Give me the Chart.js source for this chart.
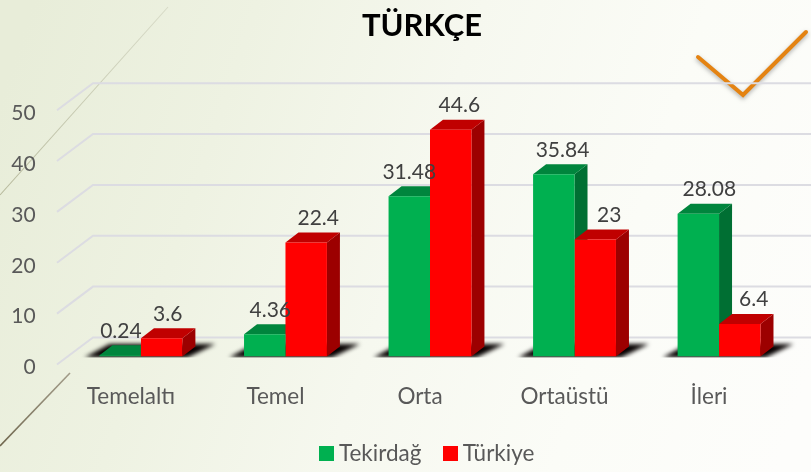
<!DOCTYPE html>
<html><head><meta charset="utf-8">
<script src="https://cdn.jsdelivr.net/npm/chart.js@4"></script>
<style>html,body{margin:0;padding:0;overflow:hidden;background:#fff}canvas{display:block}</style>
</head><body><canvas id="c" width="811" height="472"></canvas>
<script>
const categories = ["Temelaltı","Temel","Orta","Ortaüstü","İleri"];
const tekirdag = [0.24,4.36,31.48,35.84,28.08];
const turkiye = [3.6,22.4,44.6,23,6.4];
const titleText = "TÜRKÇE";
const FONT = "Lato, Carlito, Calibri, sans-serif";
const depth = {dx:13, dy:10};
const wall = {left:57, back:93, right:811, frontDy:8, backDy:-19};
const labelShift = [[0.7,5.5,0,8.7,11],[6,12,8.6,14,14]];
function poly(ctx,pts,fill){ctx.beginPath();pts.forEach((p,i)=>i?ctx.lineTo(p[0],p[1]):ctx.moveTo(p[0],p[1]));ctx.closePath();ctx.fillStyle=fill;ctx.fill();}
function swatch(color){const c=document.createElement('canvas');c.width=15;c.height=15;const x=c.getContext('2d');x.fillStyle=color;x.fillRect(0,0,15,15);return c;}
const scene = {
  id:'scene',
  afterLayout(chart){const t=chart.titleBlock;t.left-=8;t.right-=8;},
  beforeDraw(chart){
    const {ctx,width:w,height:h}=chart;
    ctx.save();
    const g=ctx.createLinearGradient(0,100,w,h-100);
    g.addColorStop(0,'#e8edd9');g.addColorStop(.25,'#eef2e2');g.addColorStop(.5,'#f6f8ef');g.addColorStop(.75,'#fbfcf7');g.addColorStop(1,'#fdfdfb');
    ctx.fillStyle=g;ctx.fillRect(0,0,w,h);
    let l=ctx.createLinearGradient(0,195,168,7);l.addColorStop(0,'rgba(170,172,140,.8)');l.addColorStop(1,'rgba(190,192,170,.45)');
    ctx.lineWidth=1.1;ctx.strokeStyle=l;ctx.beginPath();ctx.moveTo(0,195);ctx.lineTo(168,7);ctx.stroke();
    ctx.lineWidth=1.6;
    l=ctx.createLinearGradient(0,446,70,373);l.addColorStop(0,'rgba(105,95,70,.95)');l.addColorStop(1,'rgba(130,120,100,.7)');
    ctx.strokeStyle=l;ctx.beginPath();ctx.moveTo(0,446);ctx.lineTo(70,373);ctx.stroke();
    ctx.save();ctx.shadowColor='rgba(0,0,0,.3)';ctx.shadowBlur=4;ctx.shadowOffsetY=2;
    ctx.strokeStyle='#e48312';ctx.lineWidth=4;ctx.lineCap='round';ctx.lineJoin='miter';
    ctx.beginPath();ctx.moveTo(698,57);ctx.lineTo(743,95);ctx.lineTo(806,32);ctx.stroke();ctx.restore();
    const y=chart.scales.y;
    ctx.strokeStyle='#dcdce2';ctx.lineWidth=2;
    y.ticks.forEach(t=>{const p=y.getPixelForValue(t.value);
      ctx.beginPath();ctx.moveTo(wall.left,p+wall.frontDy);ctx.lineTo(wall.back,p+wall.backDy);ctx.lineTo(wall.right,p+wall.backDy);ctx.stroke();});
    ctx.restore();
  },
  beforeDatasetsDraw(chart){
    const {ctx}=chart;const a=chart.getDatasetMeta(0).data,b=chart.getDatasetMeta(1).data;const base=chart.scales.y.getPixelForValue(0);
    ctx.save();
    a.forEach((bar,i)=>{
      const x0=bar.x-bar.width/2,x2=b[i].x+b[i].width/2;
      ctx.save();ctx.beginPath();ctx.rect(0,0,chart.width,base+1);ctx.clip();
      ctx.filter='blur(2px)';
      poly(ctx,[[x0-15,base+1],[x0+10,base-12.5],[x2+33,base-12.5],[x2+5,base+1]],'rgba(5,0,0,1)');
      ctx.restore();
    });
    const faces=[[a,'#00853d','#006f33'],[b,'#c00000','#9c0000']];
    faces.forEach(([bars,top,side])=>bars.forEach(bar=>{
      const l=bar.x-bar.width/2,r=bar.x+bar.width/2,t=bar.y,d=depth;
      poly(ctx,[[r,base],[r+d.dx,base-d.dy],[r+d.dx,t-d.dy],[r,t]],side);
      poly(ctx,[[l,t],[l+d.dx,t-d.dy],[r+d.dx,t-d.dy],[r,t]],top);
    }));
    ctx.restore();
  },
  afterDatasetsDraw(chart){
    const {ctx}=chart;ctx.save();
    ctx.font='21px '+FONT;ctx.fillStyle='#404040';ctx.textAlign='center';ctx.textBaseline='middle';
    chart.data.datasets.forEach((ds,k)=>chart.getDatasetMeta(k).data.forEach((bar,i)=>{
      ctx.fillText(String(ds.data[i]),bar.x+labelShift[k][i],bar.y-24.2);}));
    ctx.restore();
  }
};
new Chart(document.getElementById('c'),{
  type:'bar',
  data:{labels:categories,datasets:[
    {label:'Tekirdağ',data:tekirdag,backgroundColor:'#00b050'},
    {label:'Türkiye',data:turkiye,backgroundColor:'#ff0000'}]},
  plugins:[scene],
  options:{responsive:false,animation:false,
    layout:{padding:{left:0,right:19.7,top:0,bottom:-2.7}},
    datasets:{bar:{categoryPercentage:.5735,barPercentage:1,borderWidth:0}},
    plugins:{
      tooltip:{enabled:false},
      title:{display:true,text:titleText,fullSize:false,color:'#000',font:{family:FONT,size:31,weight:'bold',lineHeight:1.2},padding:{top:7,bottom:58}},
      legend:{position:'bottom',fullSize:false,labels:{usePointStyle:true,pointStyleWidth:2,boxHeight:15,color:'#595959',font:{family:FONT,size:22.5},padding:28,
        generateLabels(chart){return Chart.defaults.plugins.legend.labels.generateLabels(chart).map(l=>({...l,pointStyle:swatch(l.fillStyle)}));}}}
    },
    scales:{
      x:{grid:{display:false},border:{display:false},
        afterFit(s){s.height=57.75;},
        ticks:{color:'#595959',font:{family:FONT,size:22.5},labelOffset:-10,padding:19,maxRotation:0}},
      y:{min:0,max:50,grid:{display:false},border:{display:false},
        afterFit(s){s.width=68.7;},
        ticks:{stepSize:10,color:'#595959',font:{family:FONT,size:21},labelOffset:11,padding:25}}
    }
  }
});
</script></body></html>
